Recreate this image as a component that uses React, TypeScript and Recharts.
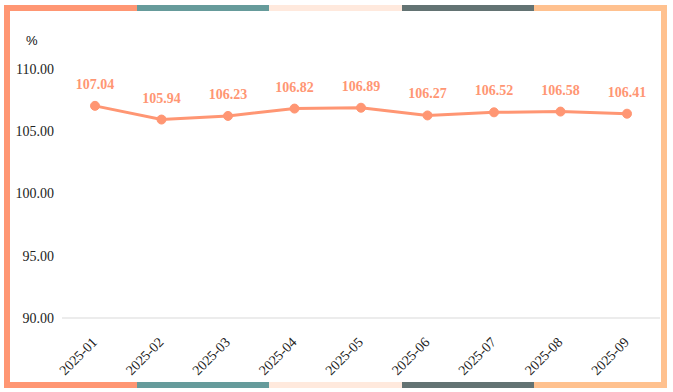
import { LineChart, Line, XAxis, YAxis, LabelList } from "recharts";

const months = ["2025-01", "2025-02", "2025-03", "2025-04", "2025-05", "2025-06", "2025-07", "2025-08", "2025-09"];
const values = [107.04, 105.94, 106.23, 106.82, 106.89, 106.27, 106.52, 106.58, 106.41];
const yTicks = [90, 95, 100, 105, 110];
const stripColors = ["#FF9673", "#669B9B", "#FFE9DD", "#637373", "#FFC18F"];

const data = months.map((m, i) => ({ month: m, value: values[i] }));

const serif = "Liberation Serif";

function MonthTick(props: any) {
  const { x, y, payload } = props;
  return (
    <g transform={`translate(${x + 3},${y + 17})`}>
      <text
        transform="rotate(-45)"
        textAnchor="end"
        style={{ fontFamily: serif, fontSize: 14, fill: "#222" }}
      >
        {payload.value}
      </text>
    </g>
  );
}

export default function App() {
  const segW = (667 - 4) / 5;
  return (
    <div style={{ position: "relative", width: 673, height: 392, background: "#fff", fontFamily: serif }}>
      <style>{"body{margin:0}"}</style>
      {/* frame: coloured strips top and bottom, solid sides */}
      {stripColors.map((c, i) => (
        <div key={"t" + i} style={{ position: "absolute", left: 4 + i * segW, top: 5, width: segW, height: 6, background: c }} />
      ))}
      {stripColors.map((c, i) => (
        <div key={"b" + i} style={{ position: "absolute", left: 4 + i * segW, top: 382, width: segW, height: 6, background: c }} />
      ))}
      <div style={{ position: "absolute", left: 4, top: 5, width: 6, height: 383, background: stripColors[0] }} />
      <div style={{ position: "absolute", left: 661, top: 5, width: 6, height: 383, background: stripColors[4] }} />
      <div style={{ position: "absolute", left: 26, top: 33, fontFamily: "Liberation Sans", fontSize: 13, color: "#111" }}>%</div>
      <div style={{ position: "absolute", left: 0, top: 0 }}>
        <LineChart width={673} height={392} data={data} margin={{ top: 69, right: 13, bottom: 0, left: 0 }}>
          <XAxis
            dataKey="month"
            axisLine={{ stroke: "#d9d9d9" }}
            tickLine={false}
            height={74}
            interval={0}
            padding={{ left: 33, right: 33 }}
            tick={<MonthTick />}
          />
          <YAxis
            domain={[90, 110]}
            ticks={yTicks}
            width={62}
            axisLine={false}
            tickLine={false}
            tickFormatter={(v: number) => v.toFixed(2)}
            tick={{ style: { fontFamily: serif, fontSize: 14 }, fill: "#222" }}
          />
          <Line
            dataKey="value"
            stroke="#FF9673"
            strokeWidth={3}
            dot={{ r: 4.5, fill: "#FF9673", stroke: "#FF9673", strokeWidth: 1 }}
            isAnimationActive={false}
          >
            <LabelList
              dataKey="value"
              position="top"
              offset={17}
              formatter={(v: any) => Number(v).toFixed(2)}
              style={{ fontFamily: serif, fontSize: 14, fontWeight: "bold", fill: "#FF9673" }}
            />
          </Line>
        </LineChart>
      </div>
    </div>
  );
}
